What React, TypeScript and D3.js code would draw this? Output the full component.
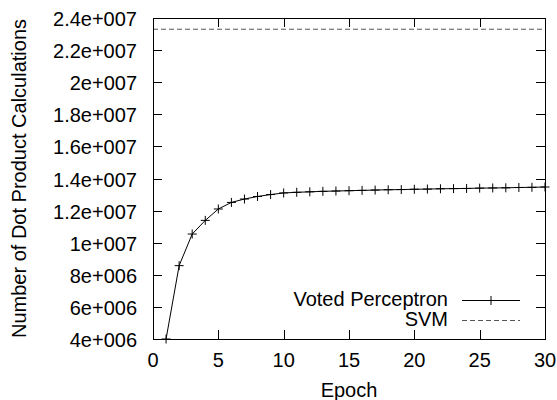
import React, { useEffect, useRef } from 'react';
import * as d3 from 'd3';

// data
const epochs = d3.range(1, 31);
const votedPerceptron = [
  4.0e6, 8.57e6, 10.54e6, 11.39e6, 12.1e6, 12.51e6, 12.72e6, 12.88e6, 13.0e6, 13.1e6,
  13.14e6, 13.17e6, 13.2e6, 13.22e6, 13.24e6, 13.26e6, 13.28e6, 13.3e6, 13.31e6, 13.33e6,
  13.34e6, 13.36e6, 13.37e6, 13.38e6, 13.4e6, 13.41e6, 13.42e6, 13.44e6, 13.45e6, 13.47e6,
];
const svmValue = 2.33e7;

const xTicks = [0, 5, 10, 15, 20, 25, 30];
const yTicks = [4e6, 6e6, 8e6, 1e7, 1.2e7, 1.4e7, 1.6e7, 1.8e7, 2e7, 2.2e7, 2.4e7];
const yTickLabels = [
  '4e+006', '6e+006', '8e+006', '1e+007', '1.2e+007', '1.4e+007',
  '1.6e+007', '1.8e+007', '2e+007', '2.2e+007', '2.4e+007',
];

const WIDTH = 557;
const HEIGHT = 400;
const FONT = '"Liberation Sans", Arial, Helvetica, sans-serif';

export default function App() {
  const node = useRef<SVGSVGElement | null>(null);

  useEffect(() => {
    const svg = d3.select(node.current);
    svg.selectAll('*').remove();

    const margin = { top: 18, right: 12, bottom: 61, left: 153 };
    const w = WIDTH - margin.left - margin.right;
    const h = HEIGHT - margin.top - margin.bottom;

    const xScale = d3.scaleLinear().domain([0, 30]).range([0, w]);
    const yScale = d3.scaleLinear().domain([4e6, 2.4e7]).range([h, 0]);

    const main = svg.append('g')
      .attr('transform', `translate(${margin.left}, ${margin.top})`);

    // clip the data to the frame
    svg.append('defs').append('clipPath').attr('id', 'plot-clip')
      .append('rect').attr('width', w).attr('height', h);

    const tickLen = 9;

    // ticks, mirrored on all sides
    const ticks = main.append('g').attr('stroke', '#000').attr('stroke-width', 1);
    xTicks.forEach(t => {
      const x = Math.round(xScale(t)) + 0.5;
      ticks.append('line').attr('x1', x).attr('x2', x).attr('y1', h).attr('y2', h - tickLen);
      ticks.append('line').attr('x1', x).attr('x2', x).attr('y1', 0).attr('y2', tickLen);
    });
    yTicks.forEach(t => {
      const y = Math.round(yScale(t)) + 0.5;
      ticks.append('line').attr('x1', 0).attr('x2', tickLen).attr('y1', y).attr('y2', y);
      ticks.append('line').attr('x1', w).attr('x2', w - tickLen).attr('y1', y).attr('y2', y);
    });

    // tick labels
    main.append('g')
      .selectAll('text')
      .data(xTicks)
      .enter()
      .append('text')
      .attr('x', d => xScale(d))
      .attr('y', h + 28)
      .attr('text-anchor', 'middle')
      .text(d => String(d));

    main.append('g')
      .selectAll('text')
      .data(yTicks)
      .enter()
      .append('text')
      .attr('x', -16)
      .attr('y', d => yScale(d) + 8)
      .attr('text-anchor', 'end')
      .text((d, i) => yTickLabels[i]);

    // axis titles
    main.append('text')
      .attr('x', w / 2)
      .attr('y', HEIGHT - margin.top - 3)
      .attr('text-anchor', 'middle')
      .text('Epoch');

    main.append('text')
      .attr('transform', `translate(${26 - margin.left}, ${h / 2}) rotate(-90)`)
      .attr('text-anchor', 'middle')
      .text('Number of Dot Product Calculations');

    const plot = main.append('g').attr('clip-path', 'url(#plot-clip)');

    // svm line
    plot.append('line')
      .attr('x1', 0)
      .attr('x2', w)
      .attr('y1', yScale(svmValue))
      .attr('y2', yScale(svmValue))
      .attr('stroke', '#555')
      .attr('stroke-width', 1)
      .attr('stroke-dasharray', '5,3');

    // voted perceptron
    const pts = epochs.map((e, i) => [xScale(e), yScale(votedPerceptron[i])] as [number, number]);
    plot.append('path')
      .attr('d', d3.line()(pts))
      .attr('fill', 'none')
      .attr('stroke', '#000')
      .attr('stroke-width', 1);

    const m = 4.5;
    const plus = (g: any, x: number, y: number) => {
      g.append('path')
        .attr('d', `M${x - m},${y}H${x + m}M${x},${y - m}V${y + m}`)
        .attr('stroke', '#000')
        .attr('stroke-width', 1)
        .attr('fill', 'none');
    };
    pts.forEach(([x, y]) => plus(main, x, y));

    // frame
    main.append('rect')
      .attr('x', 0.5)
      .attr('y', 0.5)
      .attr('width', w)
      .attr('height', h)
      .attr('fill', 'none')
      .attr('stroke', '#000')
      .attr('stroke-width', 1);

    // legend
    const legend = svg.append('g');
    legend.append('text')
      .attr('x', 448)
      .attr('y', 306)
      .attr('text-anchor', 'end')
      .text('Voted Perceptron');
    legend.append('line')
      .attr('x1', 462).attr('x2', 520)
      .attr('y1', 300.5).attr('y2', 300.5)
      .attr('stroke', '#000');
    plus(legend, 491, 300.5);

    legend.append('text')
      .attr('x', 448)
      .attr('y', 326)
      .attr('text-anchor', 'end')
      .text('SVM');
    legend.append('line')
      .attr('x1', 462).attr('x2', 520)
      .attr('y1', 320.5).attr('y2', 320.5)
      .attr('stroke', '#555')
      .attr('stroke-dasharray', '5,3');
  }, []);

  return (
    <svg
      ref={node}
      width={WIDTH}
      height={HEIGHT}
      style={{ position: 'absolute', left: 0, top: 0, background: '#fff', fontFamily: FONT, fontSize: 20 }}
    />
  );
}
